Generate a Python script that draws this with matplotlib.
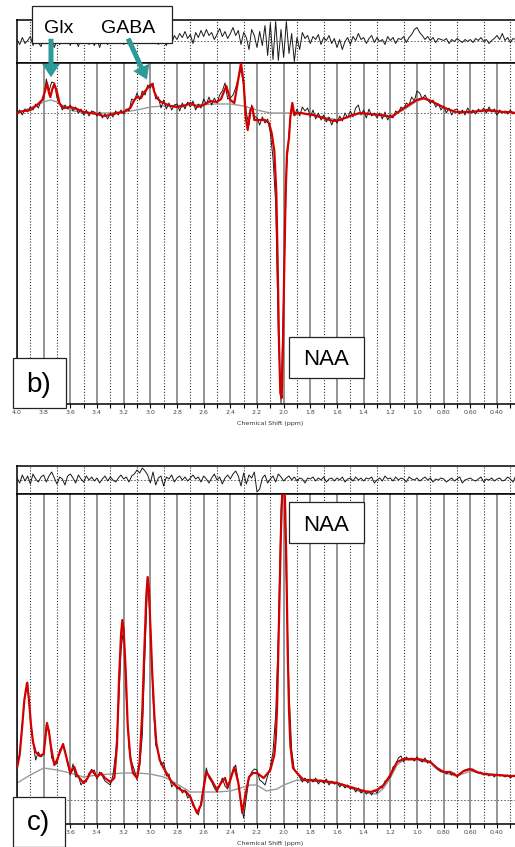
import numpy as np
import matplotlib
matplotlib.use('Agg')
import matplotlib.pyplot as plt
from matplotlib.patches import FancyArrowPatch, Rectangle

# ---------------- data ----------------
tick_vals = [4.0, 3.8, 3.6, 3.4, 3.2, 3.0, 2.8, 2.6, 2.4, 2.2, 2.0, 1.8, 1.6, 1.4, 1.2, 1.0, 0.8, 0.6, 0.4]
tick_labels = ["4.0", "3.8", "3.6", "3.4", "3.2", "3.0", "2.8", "2.6", "2.4", "2.2", "2.0", "1.8",
               "1.6", "1.4", "1.2", "1.0", "0.80", "0.60", "0.40"]
# in panel c the first two labels are hidden behind the "c)" box
tick_labels_c = ["", "", "3.6", "3.4", "3.2", "3.0", "2.8", "2.6", "2.4", "2.2", "2.0", "1.8",
                 "1.6", "1.4", "1.2", "1.0", "0.80", "0.60", "0.40"]
minor_vals = [3.9, 3.7, 3.5, 3.3, 3.1, 2.9, 2.7, 2.5, 2.3, 2.1, 1.9, 1.7, 1.5, 1.3, 1.1, 0.9, 0.7, 0.5, 0.3]

# sampled-data grid (ppm), 0.02 ppm step from 4.00 down to 0.26
grid_start, grid_step = 4.00, 0.02

# panel b: measured spectrum (black)
b_data = [0, 3, -2, 4, 1, 6, 3, 9, 5, 12,
          14, 34, 22, 31, 30, 15, 10, 3, 8, 4,
          8, 2, 6, 0, 4, -2, 3, -3, 2, 1,
          -3, 1, -5, -1, -6, 0, -4, 2, -2, 3,
          -1, 4, 2, 14, 12, 20, 13, 22, 18, 28,
          25, 30, 14, 16, 5, 13, 4, 10, 3, 8,
          9, 2, 10, 4, 11, 6, 12, 3, 9, 5,
          14, 9, 16, 8, 15, 10, 18, 22, 30, 14,
          15, 18, 25, 35, 44, 28, 0, -12, 8, -3,
          -5, -12, -4, -10, -6, -20, -45, -90, -220, -290,
          -180, -60, -20, 8, -3,
          4, -3, 6, 2, 5, -4, 3, -6, 0, -7,
          -2, -9, -4, -12, -6, -10, -3, -8, 0, -5,
          2, -4, 5, 8, -2, 3, -5, 4, -3, 0,
          -5, 0, -6, 1, -7, -2, -5, 2, 0, 6,
          4, 10, 8, 16, 12, 22, 20, 14, 18, 13,
          10, 13, 6, 9, 3, 7, 0, 5, -2, 3,
          4, -1, 3, -2, 5, 0, 3, -1, 4, 1,
          5, 0, 6, 1, 4, -2, 3, 0, 2, -1,
          3, -1, 1]

# panel b: residual (top strip)
b_resid = [2, -3, 4, -2, 1, 5, -4, 3, -1, -5,
           3, 6, -2, 4, -6, 2, -3, 5, -1, 4,
           -4, 6, 2, -5, 3, -2, 5, -3, 1, -4,
           2, -6, 3, 0, -3, 4, -2, 6, -1, 3,
           -3, 2, 5, -2, 7, 1, 9, 3, 6, -2,
           4, 8, 2, -3, 5, 1, -4, 3, -2, 6,
           2, 8, 4, 10, 3, 7, -2, 9, 4, 11,
           5, 12, 6, 9, 2, 7, 13, 5, 10, 3,
           8, 14, 6, 11, -3, 9, 4, -8, 12, 6,
           -6, 10, -4, 16, -14, 18, -18, 20, -19, 12,
           -16, 20, -12, 8, -20, 4, -8, 9, 3, 6,
           -2, 5, 2, 7, -3, 4, 1, 6, -2, 3,
           -6, 2, -8, 0, 4, -3, 5, 1, 8, 2,
           4, -2, 3, 6, -1, 4, 0, 2, -3, 5,
           1, 4, -2, 3, 2, 5, -1, 4, 7, 12,
           14, 9, 6, 2, 5, 1, 4, -1, 3, 2,
           1, 3, -2, 2, 0, 3, 1, -1, 2, 0,
           2, -1, 3, 1, 4, 0, 2, -2, 1, 3,
           6, 2, 8, 1, 4, -1, 3, 2]

# panel b: fit (red)
b_fit_ppm = [4.00, 3.95, 3.90, 3.85, 3.81, 3.79, 3.775, 3.76, 3.75, 3.735, 3.72, 3.70, 3.68, 3.65,
             3.60, 3.55, 3.50, 3.45, 3.40, 3.35, 3.30, 3.25, 3.20, 3.15, 3.12, 3.10, 3.07, 3.05,
             3.02, 3.00, 2.985, 2.97, 2.95, 2.92, 2.90, 2.85, 2.80, 2.75, 2.70, 2.65, 2.60, 2.55,
             2.50, 2.47, 2.43, 2.40, 2.37, 2.345, 2.32, 2.30, 2.285, 2.27, 2.25, 2.235, 2.22, 2.19,
             2.14, 2.11, 2.09, 2.07, 2.055, 2.045, 2.035, 2.025, 2.015, 2.005, 1.995, 1.985, 1.975,
             1.96, 1.95, 1.935, 1.92, 1.90, 1.87, 1.83, 1.78, 1.73, 1.68, 1.63, 1.58, 1.54, 1.48,
             1.43, 1.36, 1.28, 1.19, 1.12, 1.04, 1.00, 0.955, 0.91, 0.865, 0.79, 0.71, 0.65, 0.59,
             0.53, 0.47, 0.41, 0.36, 0.30, 0.265]
b_fit = [0, 2, 3, 8, 13, 22, 30, 20, 16, 24, 29, 21, 9, 5,
         6, 4, 1, 0, -1, -3, -2, 0, 1, 5, 13, 16, 15, 20,
         25, 28, 29, 21, 15, 11, 10, 7, 6, 7, 10, 6, 8, 12,
         11, 14, 27, 13, 10, 30, 50, 30, -4, -17, 3, 6, -7, -7,
         -7, -10, -20, -38, -80, -150, -230, -280, -285, -230, -150, -80, -40,
         -25, -4, 10, -2, 0, 0, -1, -2, -4, -6, -8, -7, -5, -2,
         0, -1, -2, -4, 3, 10, 13, 15, 13, 10, 5, 1, 1, 1,
         2, 3, 2, 1, 1, 0]

# panel b: baseline (grey)
b_base_ppm = [4.00, 3.90, 3.80, 3.75, 3.70, 3.65, 3.60, 3.50, 3.30, 3.20, 3.10, 3.00, 2.90, 2.70,
              2.50, 2.40, 2.30, 2.20, 2.10, 1.90, 1.80, 1.70, 1.60, 1.50, 1.40, 1.30, 1.20, 1.10,
              1.00, 0.95, 0.90, 0.80, 0.70, 0.50, 0.265]
b_base = [0, 5, 11, 13, 11, 7, 3, 0, 0, 1, 3, 6, 7, 8,
          9, 9, 7, 3, 0, 0, -1, -4, -7, -3, 0, -1, -3, 3,
          12, 14, 12, 5, 1, 2, 0]

# panel c: measured spectrum (black)
c_data = [33, 46, 78, 104, 118, 80, 58, 40, 48, 43,
          46, 75, 70, 42, 37, 36, 50, 53, 50, 36,
          25, 36, 23, 24, 15, 19, 18, 27, 28, 30,
          21, 28, 24, 19, 17, 15, 25, 47, 88, 150,
          172, 102, 52, 38, 30, 20, 34, 65, 148, 220,
          178, 103, 55, 48, 35, 38, 24, 26, 13, 17,
          11, 13, 7, 10, 2, 4, -6, -9, -15, -3,
          15, 32, 22, 18, 12, 8, 15, 22, 14, 11,
          22, 30, 35, 18, -3, -18, 2, 22, 28, 31,
          30, 20, 18, 15, 24, 33, 48, 85, 165, 290,
          340, 220, 110, 50, 30, 27, 23, 18, 22, 17,
          21, 18, 22, 16, 20, 17, 21, 15, 19, 16,
          18, 13, 16, 12, 15, 11, 13, 8, 12, 7,
          10, 6, 9, 5, 10, 7, 13, 12, 19, 20,
          23, 33, 35, 42, 44, 38, 43, 40, 42, 39,
          43, 40, 38, 42, 37, 39, 35, 32, 30, 28,
          29, 26, 28, 25, 27, 23, 26, 28, 30, 31,
          30, 31, 28, 27, 28, 25, 27, 24, 26, 23,
          26, 24, 25, 23, 25, 22, 24, 25]

# panel c: residual (top strip)
c_resid = [2, -3, 5, -1, 4, -4, 6, 1, -2, 3,
           5, -2, 4, 8, 2, -4, 3, 1, -5, 4,
           6, 2, -3, 5, 1, -2, 4, 0, 3, -1,
           2, -3, 1, 4, -1, 3, 0, -2, 2, 5,
           1, 3, -2, 4, 6, 10, 7, 12, 9, 5,
           -3, 8, -5, 2, 4, -6, 3, 1, 5, -2,
           2, 4, 0, 3, -1, 2, 5, 1, 3, -2,
           4, 1, -3, 2, 6, 0, 3, -4, 2, 5,
           1, 6, 9, 4, -6, 7, -4, 5, 2, 8,
           -12, -9, 2, 5, -3, 1, 4, -2, 6, 3,
           -1, 2, 4, 0, 3, -1, 2, 1, -3, 2,
           1, 3, -1, 2, 0, 3, -2, 1, 2, -1,
           2, 0, 3, -2, 1, 2, -1, 3, 0, 2,
           -1, 2, 1, 3, -3, 0, 2, -1, 4, 1,
           2, -1, 3, 0, 2, 1, -2, 3, 1, 0,
           2, -1, 1, 3, 0, 2, -2, 1, 0, 2,
           1, -2, 0, 2, -1, 1, 3, -3, 0, 1,
           2, 0, -1, 1, 3, -2, 1, 0, 2, -1,
           1, 2, -1, 0, 3, 1, -2, 4]

# panel c: fit (red)
c_fit_ppm = [4.00, 3.98, 3.96, 3.945, 3.925, 3.91, 3.895, 3.88, 3.86, 3.83, 3.80, 3.785, 3.775,
             3.76, 3.745, 3.72, 3.70, 3.68, 3.655, 3.63, 3.60, 3.57, 3.55, 3.52, 3.50, 3.47,
             3.44, 3.40, 3.37, 3.34, 3.30, 3.27, 3.25, 3.235, 3.22, 3.21, 3.20, 3.185, 3.17,
             3.15, 3.13, 3.10, 3.08, 3.06, 3.045, 3.03, 3.02, 3.01, 3.00, 2.985, 2.97, 2.955,
             2.93, 2.90, 2.87, 2.84, 2.80, 2.77, 2.73, 2.70, 2.67, 2.65, 2.62, 2.60, 2.58, 2.55,
             2.52, 2.50, 2.47, 2.44, 2.42, 2.40, 2.37, 2.34, 2.31, 2.29, 2.26, 2.23, 2.20, 2.15,
             2.10, 2.07, 2.06, 2.05, 2.04, 2.03, 2.02, 2.01, 2.00, 1.99, 1.98, 1.97, 1.96, 1.95,
             1.93, 1.90, 1.85, 1.80, 1.70, 1.60, 1.50, 1.40, 1.35, 1.30, 1.25, 1.20, 1.15, 1.10,
             1.00, 0.95, 0.90, 0.85, 0.80, 0.75, 0.70, 0.65, 0.60, 0.55, 0.50, 0.40, 0.30, 0.265]
c_fit = [32, 45, 75, 100, 117, 100, 75, 58, 48, 44, 46, 65, 77,
         68, 53, 35, 40, 47, 56, 43, 27, 33, 25, 20, 17, 22,
         30, 23, 27, 22, 18, 22, 55, 120, 165, 180, 170, 130, 75,
         42, 27, 22, 38, 90, 150, 205, 223, 210, 175, 125, 85, 57,
         40, 32, 25, 18, 13, 10, 8, 3, -7, -13, -5, 12, 28, 22,
         15, 10, 17, 22, 13, 20, 33, 17, -13, 3, 23, 27, 27, 22,
         30, 45, 60, 90, 150, 210, 270, 310, 325, 300, 240, 150, 90, 55,
         32, 27, 20, 20, 19, 17, 13, 9, 8, 10, 15, 25, 38, 41,
         41, 40, 38, 32, 28, 28, 24, 29, 31, 28, 26, 25, 24, 24]

# panel c: baseline (grey)
c_base_ppm = [4.00, 3.90, 3.80, 3.70, 3.60, 3.50, 3.40, 3.30, 3.20, 3.10, 3.00, 2.90, 2.85, 2.80,
              2.75, 2.70, 2.60, 2.50, 2.40, 2.30, 2.25, 2.20, 2.13, 2.05, 2.00, 1.90, 1.80, 1.70,
              1.60, 1.50, 1.40, 1.30, 1.25, 1.20, 1.15, 1.10, 1.00, 0.90, 0.80, 0.70, 0.60, 0.50,
              0.40, 0.265]
c_base = [17, 25, 32, 30, 27, 23, 25, 26, 27, 27, 26, 23, 20, 16,
          12, 8, 8, 8, 9, 13, 15, 15, 9, 11, 15, 20, 19, 18,
          16, 12, 7, 6, 12, 22, 35, 40, 40, 37, 27, 24, 29, 26,
          25, 24]

# ---------------- layout ----------------
W, H = 515, 847
fig = plt.figure(figsize=(W / 100, H / 100), dpi=100)
fig.patch.set_facecolor('white')


def px_box(x0, y0, x1, y1):
    return [x0 / W, 1 - y1 / H, (x1 - x0) / W, (y1 - y0) / H]


def fx(x):
    return x / W


def fy(y):
    return 1 - y / H


XL = (4.0, 0.265)
grid_ppm = np.round(grid_start - grid_step * np.arange(len(b_data)), 3)

BLACK = '#1a1a1a'
RED = '#d40000'
GREY = '#9a9a9a'


def style_resid(ax, ylim):
    ax.set_xlim(*XL)
    ax.set_ylim(*ylim)
    ax.set_xticks([])
    ax.set_xticks(minor_vals, minor=True)
    ax.tick_params(which='both', length=0, labelbottom=False, labelleft=False, left=False)
    ax.set_yticks([])
    ax.grid(which='minor', axis='x', color='#333333', ls=(0, (1, 1.6)), lw=0.8)
    for s in ['top', 'bottom', 'left']:
        ax.spines[s].set_color('black')
        ax.spines[s].set_linewidth(1.1)
    ax.spines['right'].set_visible(False)
    ax.axhline(0, color='#555555', ls=(0, (2, 2)), lw=0.6, zorder=1)


def style_main(ax, ylim, labels):
    ax.set_xlim(*XL)
    ax.set_ylim(*ylim)
    ax.set_xticks(tick_vals)
    ax.set_xticklabels(labels)
    ax.set_xticks(minor_vals, minor=True)
    ax.set_yticks([])
    ax.tick_params(axis='x', which='both', direction='out', length=3, width=0.8,
                   pad=1.5, labelsize=4.5, labelcolor='#444444', color='black')
    ax.grid(which='major', axis='x', color='#8c8c8c', ls='-', lw=1.3)
    ax.grid(which='minor', axis='x', color='#333333', ls=(0, (1, 1.6)), lw=0.8)
    for s in ['top', 'bottom', 'left']:
        ax.spines[s].set_color('black')
        ax.spines[s].set_linewidth(1.1)
    ax.spines['right'].set_visible(False)
    ax.axhline(0, color='#555555', ls=(0, (2, 2)), lw=0.6, zorder=1)


# ---- panel b ----
ax_rb = fig.add_axes(px_box(17, 20, 515, 63))
style_resid(ax_rb, (-21.5, 21.5))
ax_rb.plot(grid_ppm, b_resid, color=BLACK, lw=0.7, zorder=3)

ax_b = fig.add_axes(px_box(17, 63, 515, 404))
style_main(ax_b, (-291, 50), tick_labels)
ax_b.plot(b_base_ppm, b_base, color=GREY, lw=1.0, zorder=2)
ax_b.plot(grid_ppm, b_data, color=BLACK, lw=0.7, zorder=3)
ax_b.plot(b_fit_ppm, b_fit, color=RED, lw=1.6, zorder=4)

# ---- panel c ----
ax_rc = fig.add_axes(px_box(17, 466, 515, 494))
style_resid(ax_rc, (-14, 14))
ax_rc.plot(grid_ppm, c_resid, color=BLACK, lw=0.7, zorder=3)

ax_c = fig.add_axes(px_box(17, 494, 515, 824))
style_main(ax_c, (-24, 306), tick_labels_c)
ax_c.plot(c_base_ppm, c_base, color=GREY, lw=1.0, zorder=2)
ax_c.plot(grid_ppm, c_data, color=BLACK, lw=0.7, zorder=3)
ax_c.plot(c_fit_ppm, c_fit, color=RED, lw=1.6, zorder=4)

# axis titles
for yy in (423, 843):
    fig.text(fx(270), fy(yy), 'Chemical Shift (ppm)', fontsize=4.5, color='#333333',
             ha='center', va='center')

# ---- annotation boxes ----
FONT = 'Liberation Sans'


def add_box(x0, y0, x1, y1):
    r = Rectangle((fx(x0), fy(y1)), (x1 - x0) / W, (y1 - y0) / H, transform=fig.transFigure,
                  facecolor='white', edgecolor='#222222', lw=0.9, zorder=5)
    fig.add_artist(r)


add_box(32, 6, 172, 43)
fig.text(fx(59), fy(33), 'Glx', fontsize=14, family=FONT, ha='center', va='baseline', zorder=6)
fig.text(fx(128), fy(33), 'GABA', fontsize=14, family=FONT, ha='center', va='baseline', zorder=6)

add_box(289, 337, 364, 378)
fig.text(fx(326), fy(365), 'NAA', fontsize=16, family=FONT, ha='center', va='baseline', zorder=6)

add_box(289, 502, 364, 543)
fig.text(fx(326), fy(531), 'NAA', fontsize=16, family=FONT, ha='center', va='baseline', zorder=6)

add_box(13, 358, 66, 408)
fig.text(fx(39), fy(392), 'b)', fontsize=20, family=FONT, ha='center', va='baseline', zorder=6)

add_box(13, 797, 65, 847)
fig.text(fx(38), fy(830), 'c)', fontsize=20, family=FONT, ha='center', va='baseline', zorder=6)

TEAL = '#2b9a98'
for (xa, ya), (xb, yb) in [((51, 36), (51, 80)), ((127, 36), (148, 82))]:
    arr = FancyArrowPatch((fx(xa), fy(ya)), (fx(xb), fy(yb)), transform=fig.transFigure,
                          arrowstyle='simple,head_width=1.6,head_length=1.2,tail_width=0.45',
                          mutation_scale=8, color=TEAL, lw=0, zorder=7)
    fig.add_artist(arr)

fig.savefig('out.png', dpi=100)
